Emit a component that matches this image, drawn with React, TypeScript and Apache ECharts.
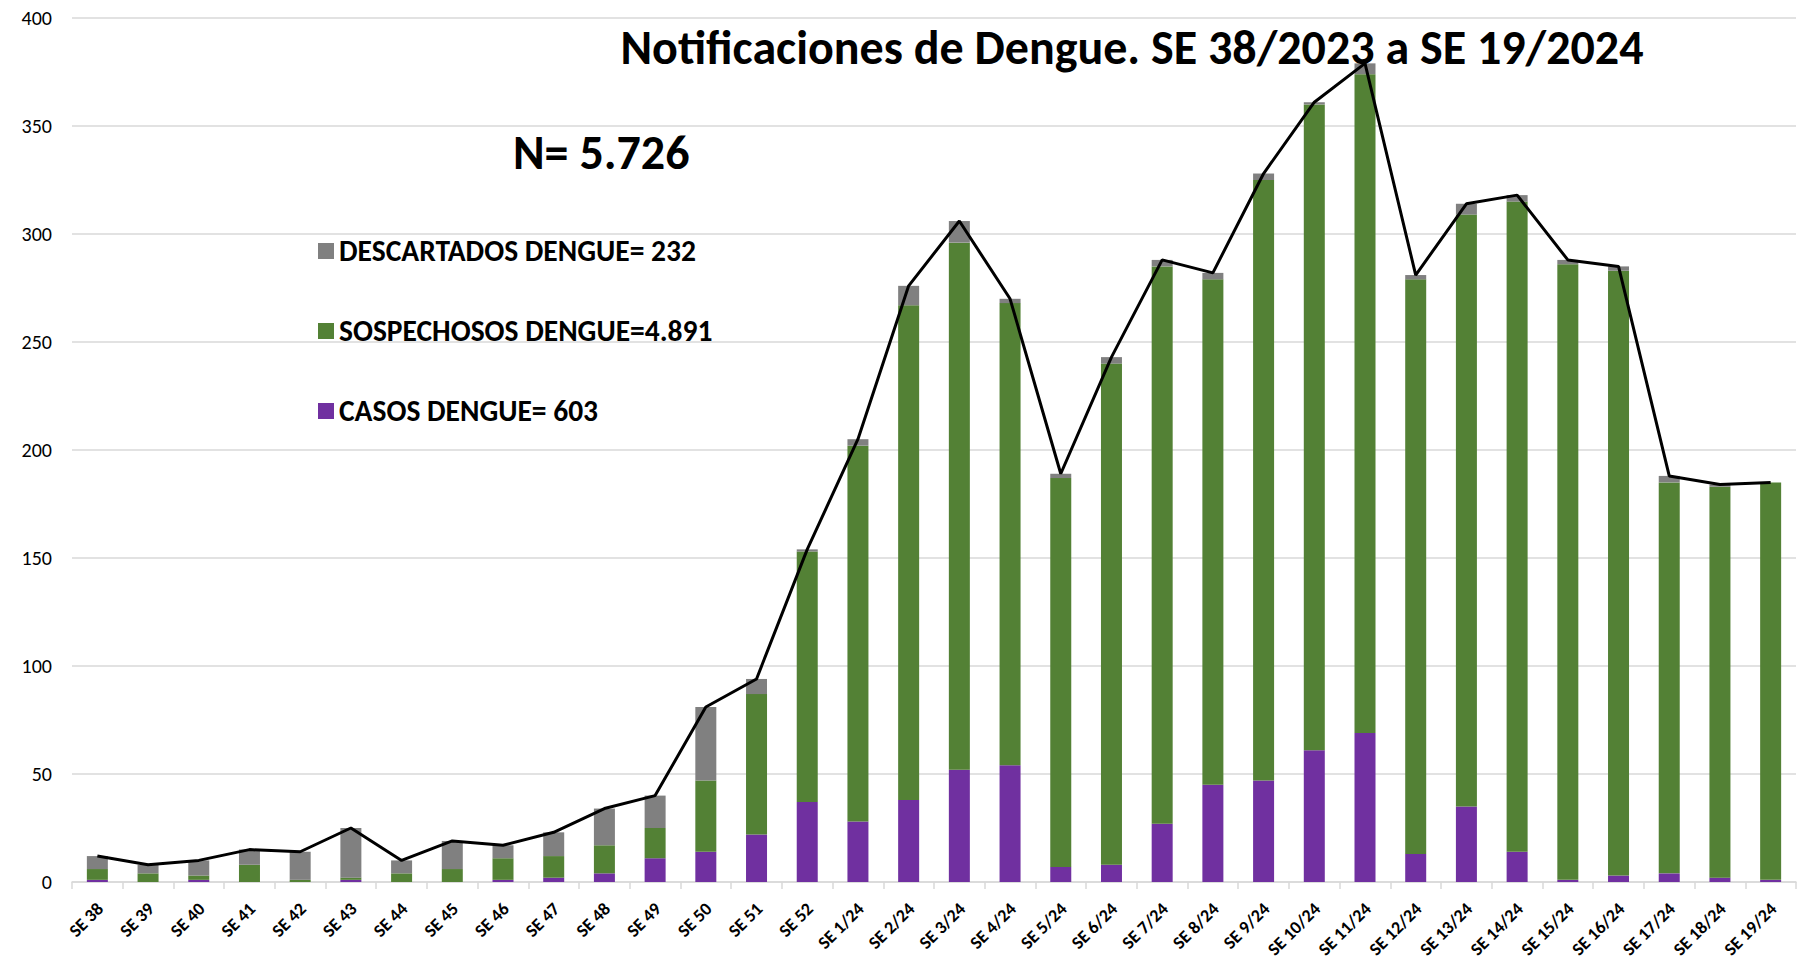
import React, { useEffect, useRef } from "react";
import * as echarts from "echarts";

const categories = [
  "SE 38", "SE 39", "SE 40", "SE 41", "SE 42", "SE 43", "SE 44", "SE 45", "SE 46", "SE 47",
  "SE 48", "SE 49", "SE 50", "SE 51", "SE 52", "SE 1/24", "SE 2/24", "SE 3/24", "SE 4/24", "SE 5/24",
  "SE 6/24", "SE 7/24", "SE 8/24", "SE 9/24", "SE 10/24", "SE 11/24", "SE 12/24", "SE 13/24", "SE 14/24",
  "SE 15/24", "SE 16/24", "SE 17/24", "SE 18/24", "SE 19/24",
];

const casos = [1, 0, 1, 0, 0, 1, 0, 0, 1, 2, 4, 11, 14, 22, 37, 28, 38, 52, 54, 7, 8, 27, 45, 47, 61, 69, 13, 35, 14, 1, 3, 4, 2, 1];
const sospechosos = [5, 4, 2, 8, 1, 1, 4, 6, 10, 10, 13, 14, 33, 65, 116, 174, 229, 244, 214, 180, 232, 258, 234, 278, 299, 305, 266, 274, 301, 285, 280, 181, 181, 184];
const descartados = [6, 4, 7, 7, 13, 23, 6, 13, 6, 11, 17, 15, 34, 7, 1, 3, 9, 10, 2, 2, 3, 3, 3, 3, 1, 5, 2, 5, 3, 2, 2, 3, 1, 0];

const yTicks = [0, 50, 100, 150, 200, 250, 300, 350, 400];

const nameDesc = "DESCARTADOS DENGUE= 232";
const nameSosp = "SOSPECHOSOS DENGUE=4.891";
const nameCasos = "CASOS DENGUE= 603";
const titleText = "Notificaciones de Dengue. SE 38/2023 a SE 19/2024";
const totalText = "N= 5.726";

const FONT = "Carlito, Lato, 'Open Sans', sans-serif";

export default function App() {
  const ref = useRef<HTMLDivElement>(null);
  useEffect(() => {
    document.body.style.margin = "0";
    if (!ref.current) return;
    const chart = echarts.init(ref.current, null, { renderer: "svg" });
    const totals = categories.map((_, i) => casos[i] + sospechosos[i] + descartados[i]);
    const legendCommon = {
      orient: "vertical",
      icon: "rect",
      itemWidth: 16,
      itemHeight: 16,
      itemGap: 10,
      textStyle: { fontFamily: FONT, fontSize: 29.5, fontWeight: "bold", color: "#000" },
      selectedMode: false,
    };
    chart.setOption({
      animation: false,
      backgroundColor: "#fff",
      graphic: [
        {
          type: "text",
          x: 1132,
          y: 47,
          z: 10,
          style: {
            text: titleText,
            fontFamily: FONT,
            fontSize: 48,
            fontWeight: "bold",
            fill: "#000",
            align: "center",
            verticalAlign: "middle",
          },
        },
        {
          type: "text",
          x: 513,
          y: 152,
          style: {
            text: totalText,
            fontFamily: FONT,
            fontSize: 48,
            fontWeight: "bold",
            fill: "#000",
            align: "left",
            verticalAlign: "middle",
          },
        },
      ],
      legend: [
        { ...legendCommon, left: 313, top: 231, data: [nameDesc] },
        { ...legendCommon, left: 313, top: 311, data: [nameSosp] },
        { ...legendCommon, left: 313, top: 391, data: [nameCasos] },
      ],
      grid: { left: 72, right: 10, top: 18, bottom: 82, containLabel: false, outerBoundsMode: "none" },
      xAxis: {
        type: "category",
        data: categories,
        boundaryGap: true,
        axisLine: { lineStyle: { color: "#d9d9d9", width: 1.5 } },
        axisTick: { show: true, length: 7, lineStyle: { color: "#d9d9d9", width: 1.5 } },
        axisLabel: {
          interval: 0,
          rotate: 45,
          margin: 14,
          verticalAlign: "top",
          padding: [0, 5, 0, 0],
          fontFamily: FONT,
          fontSize: 18,
          fontWeight: "bold",
          color: "#000",
        },
      },
      yAxis: {
        type: "value",
        min: yTicks[0],
        max: yTicks[yTicks.length - 1],
        interval: 50,
        axisLine: { show: false },
        axisTick: { show: false },
        splitLine: { lineStyle: { color: "#d9d9d9", width: 1.5 } },
        axisLabel: { fontFamily: FONT, fontSize: 20, color: "#000", margin: 20 },
      },
      series: [
        {
          name: nameCasos,
          type: "bar",
          stack: "total",
          data: casos,
          barWidth: 21,
          itemStyle: { color: "#7030A0" },
        },
        {
          name: nameSosp,
          type: "bar",
          stack: "total",
          data: sospechosos,
          barWidth: 21,
          itemStyle: { color: "#538135" },
        },
        {
          name: nameDesc,
          type: "bar",
          stack: "total",
          data: descartados,
          barWidth: 21,
          itemStyle: { color: "#808080" },
        },
        {
          name: "Total",
          type: "line",
          data: totals,
          showSymbol: false,
          symbol: "none",
          lineStyle: { color: "#000", width: 3 },
          z: 5,
        },
      ],
    });
    return () => chart.dispose();
  }, []);
  return <div ref={ref} style={{ width: 1806, height: 964 }} />;
}
